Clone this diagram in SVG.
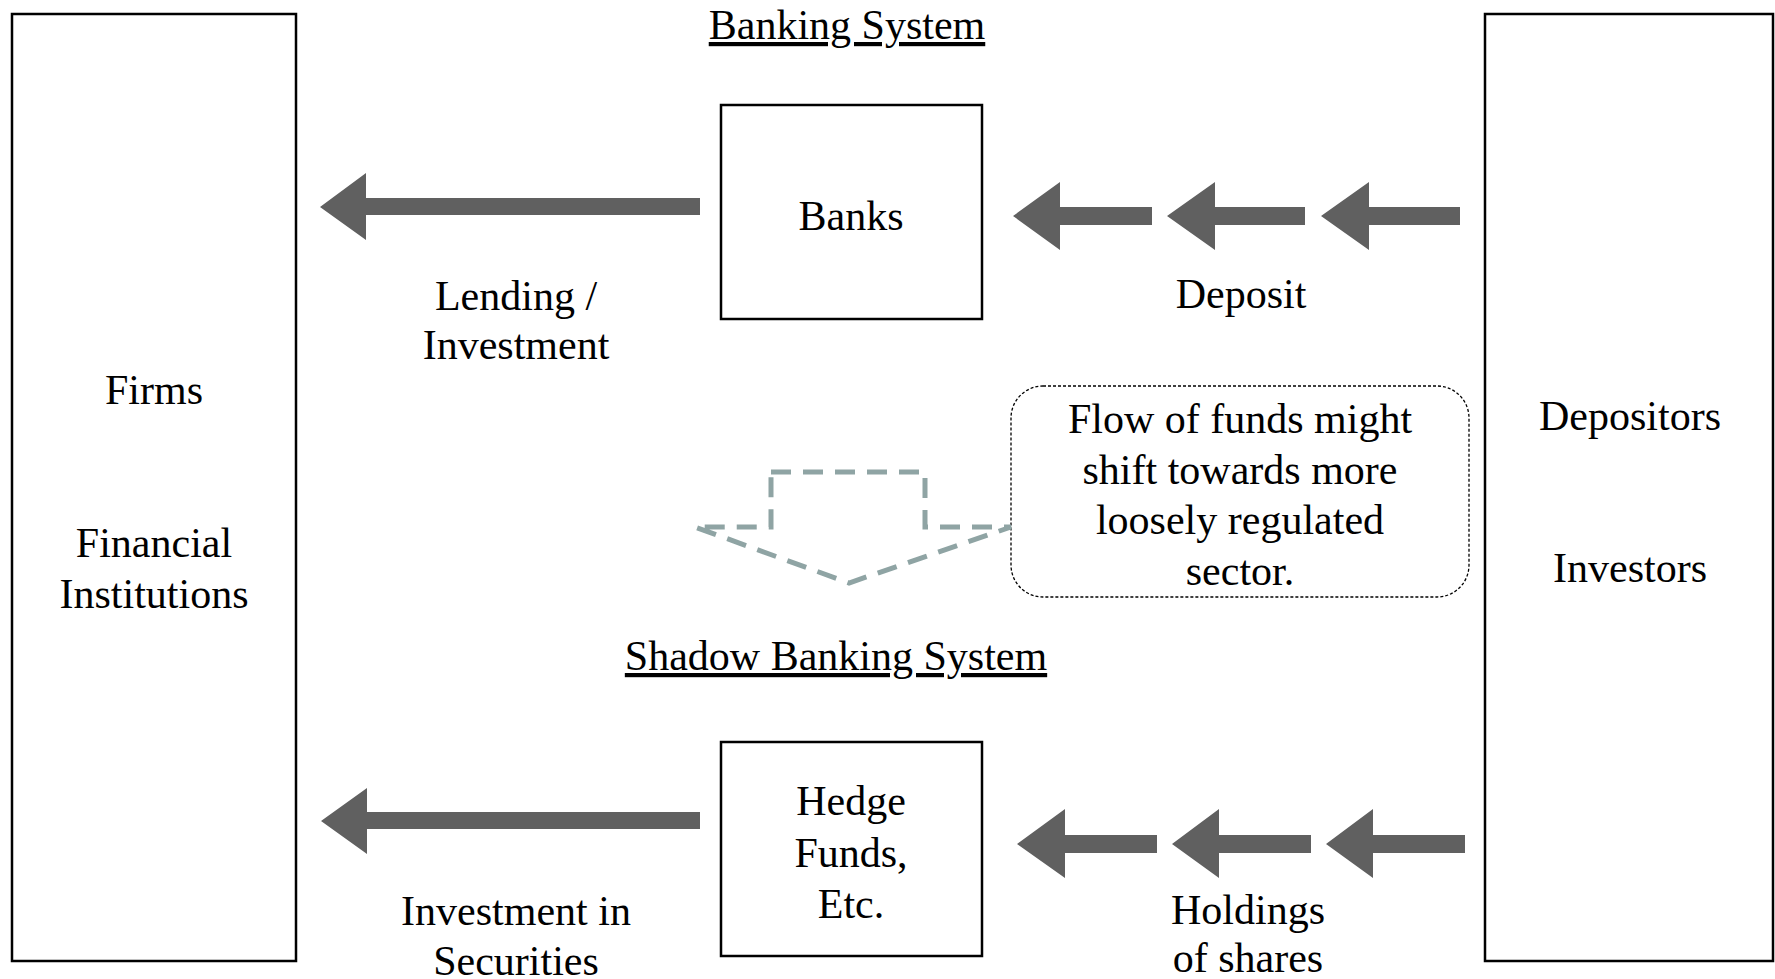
<svg xmlns="http://www.w3.org/2000/svg" width="1775" height="979" viewBox="0 0 1775 979">
<style>
text{font-family:"Liberation Serif","Times New Roman",serif;font-size:42px;fill:#000;text-anchor:middle}
.box{fill:#fff;stroke:#000;stroke-width:2.5}
.arr{fill:#606060}
.title{text-decoration:underline}
.call{fill:#fff;stroke:#000;stroke-width:1.3;stroke-dasharray:3 2}
.shift{fill:none;stroke:#8fa4a4;stroke-width:5;stroke-dasharray:20 12}
</style>
<rect width="1775" height="979" fill="#fff"/>
<g id="firms">
<rect class="box" x="12" y="14" width="284" height="947"/>
<text x="154" y="404">Firms</text>
<text x="154" y="557">Financial</text>
<text x="154" y="608">Institutions</text>
</g>
<g id="depositors">
<rect class="box" x="1485" y="14" width="288" height="947"/>
<text x="1630" y="430">Depositors</text>
<text x="1630" y="582">Investors</text>
</g>
<g id="banking-title"><text class="title" x="847" y="39">Banking System</text></g>
<g id="shadow-title"><text class="title" x="836" y="670">Shadow Banking System</text></g>
<g id="banks">
<rect class="box" x="721" y="105" width="261" height="214"/>
<text x="851" y="230">Banks</text>
</g>
<g id="hedge">
<rect class="box" x="721" y="742" width="261" height="214"/>
<text x="851" y="815">Hedge</text>
<text x="851" y="867">Funds,</text>
<text x="851" y="918">Etc.</text>
</g>
<g id="callout">
<rect class="call" x="1011" y="386" width="458" height="211" rx="32" ry="32"/>
<text x="1240" y="433">Flow of funds might</text>
<text x="1240" y="484">shift towards more</text>
<text x="1240" y="534">loosely regulated</text>
<text x="1240" y="585">sector.</text>
</g>
<g id="connectors">
<polygon class="arr" points="320,207 366,173 366,198 700,198 700,215 366,215 366,240"/>
<polygon class="arr" points="1013,216 1060,182 1060,207 1152,207 1152,225 1060,225 1060,250"/>
<polygon class="arr" points="1167,216 1215,182 1215,207 1305,207 1305,225 1215,225 1215,250"/>
<polygon class="arr" points="1321,216 1369,182 1369,207 1460,207 1460,225 1369,225 1369,250"/>
<polygon class="arr" points="321,821 367,788 367,812 700,812 700,829 367,829 367,854"/>
<polygon class="arr" points="1017,844 1065,809 1065,835 1157,835 1157,853 1065,853 1065,878"/>
<polygon class="arr" points="1172,844 1219,809 1219,835 1311,835 1311,853 1219,853 1219,878"/>
<polygon class="arr" points="1326,844 1373,809 1373,835 1465,835 1465,853 1373,853 1373,878"/>
<polygon class="shift" points="771,472 925,472 925,527 1011,527 849,583 695,527 771,527"/>
</g>
<g id="labels">
<text x="516" y="310">Lending /</text>
<text x="516" y="359">Investment</text>
<text x="1241" y="308">Deposit</text>
<text x="516" y="925">Investment in</text>
<text x="516" y="975">Securities</text>
<text x="1248" y="924">Holdings</text>
<text x="1248" y="972">of shares</text>
</g>
</svg>
